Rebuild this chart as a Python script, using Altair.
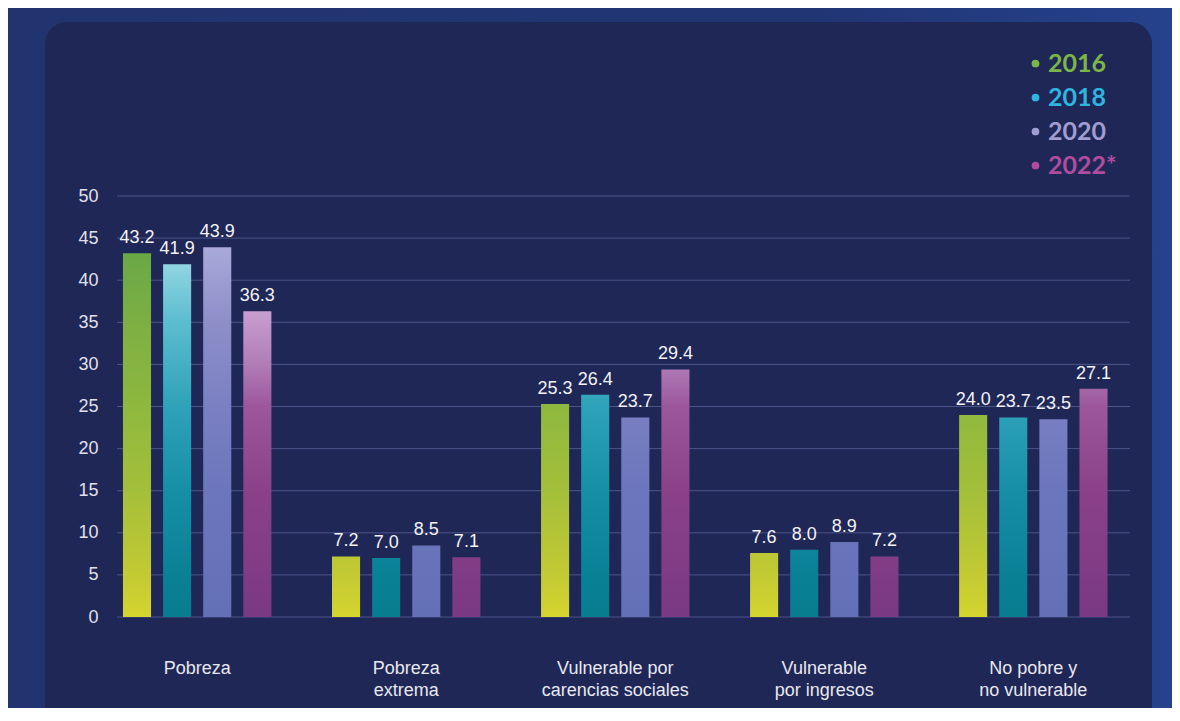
import altair as alt
import pandas as pd

# ---- data ----
categories = [
    "Pobreza",
    "Pobreza\nextrema",
    "Vulnerable por\ncarencias sociales",
    "Vulnerable\npor ingresos",
    "No pobre y\nno vulnerable",
]
years = ["2016", "2018", "2020", "2022"]
v2016 = [43.2, 7.2, 25.3, 7.6, 24.0]
v2018 = [41.9, 7.0, 26.4, 8.0, 23.7]
v2020 = [43.9, 8.5, 23.7, 8.9, 23.5]
v2022 = [36.3, 7.1, 29.4, 7.2, 27.1]
year_labels = ["2016", "2018", "2020", "2022*"]
y_ticks = [0, 5, 10, 15, 20, 25, 30, 35, 40, 45, 50]

# ---- styles ----
legend_colors = ["#7cb646", "#2eb5e0", "#9f9dd2", "#b04c9f"]
# colour stops (fraction of the gradient's full height -> colour), bottom to top
grad_stops = {
    "2016": [(0, "#d5d52f"), (0.11, "#c3ca33"), (0.34, "#a4bf3a"), (0.57, "#8eb83e"), (0.8, "#7caf43"), (1, "#68a746")],
    "2018": [(0, "#087d90"), (0.11, "#0a8095"), (0.34, "#168fa5"), (0.57, "#2ea2b8"), (0.8, "#5dbdd0"), (0.95, "#8fd4e0"), (1, "#99d9e6")],
    "2020": [(0, "#6470b6"), (0.34, "#6c76bc"), (0.57, "#7a80c2"), (0.8, "#8e8fc9"), (1, "#aaa9da")],
    "2022": [(0, "#7a3983"), (0.34, "#8a4189"), (0.57, "#9c579c"), (0.68, "#b07cb6"), (0.83, "#c8a0d0"), (1, "#d8bce0")],
}
GRAD_TOP = 44.0
FONT = "Liberation Sans, Arial, sans-serif"
LEGEND_FONT = "Lato, Noto Sans, sans-serif"

series = {"2016": v2016, "2018": v2018, "2020": v2020, "2022": v2022}
rows = []
for y in years:
    for i, c in enumerate(categories):
        rows.append({"cat": c, "year": y, "value": series[y][i], "key": f"{i}_{y}"})
df = pd.DataFrame(rows)

W, H = 1013, 421
PAD = {"left": 109, "top": 188, "right": 42, "bottom": 91}

x_enc = alt.X(
    "cat:N",
    sort=categories,
    scale=alt.Scale(domain=categories, paddingInner=0.29, paddingOuter=0.068, align=0.21),
    axis=alt.Axis(
        title=None, domain=False, ticks=False, grid=False, labelAngle=0, zindex=1,
        labelExpr="split(datum.label, '\\n')",
        labelFont=FONT, labelFontSize=18, labelColor="#e8e8f0",
        labelPadding=42, labelBaseline="top", labelLineHeight=22,
    ),
)
xo_enc = alt.XOffset("year:N", sort=years, scale=alt.Scale(domain=years, paddingInner=0.3, paddingOuter=0))
y_axis = alt.Axis(
    title=None, values=y_ticks, domain=False, ticks=False, grid=False, zindex=1,
    labelFont=FONT, labelFontSize=18, labelColor="#e0e0ea", labelPadding=19,
)
y_scale = alt.Scale(domain=[0, 50], nice=False)
y_enc = alt.Y("value:Q", scale=y_scale, axis=y_axis)

one = pd.DataFrame({"a": [0]})
background = alt.Chart(one).mark_rect(
    fill=alt.LinearGradient(
        gradient="linear", x1=0, x2=1, y1=0, y2=0,
        stops=[alt.GradientStop(color="#21346f", offset=0), alt.GradientStop(color="#213575", offset=0.7),
               alt.GradientStop(color="#25428c", offset=1)],
    )
).encode(x=alt.value(-PAD["left"]), x2=alt.value(W + PAD["right"]), y=alt.value(-PAD["top"]), y2=alt.value(H + PAD["bottom"]))

panel = alt.Chart(one).mark_rect(fill="#1f2756", cornerRadius=22).encode(
    x=alt.value(-72), x2=alt.value(1035), y=alt.value(-174), y2=alt.value(H + PAD["bottom"] + 40)
)

grid = alt.Chart(pd.DataFrame({"tick": y_ticks})).mark_rule(color="#4c5589", strokeWidth=1).encode(
    y=alt.Y("tick:Q", scale=y_scale, axis=y_axis)
)

layers = [background, panel, grid]
for y in years:
    for i, c in enumerate(categories):
        v = series[y][i]
        stops = [alt.GradientStop(color=col, offset=1 - f) for f, col in reversed(grad_stops[y])]
        grad = alt.LinearGradient(gradient="linear", x1=0, x2=0, y1=1 - GRAD_TOP / v, y2=1, stops=stops)
        layers.append(
            alt.Chart(df)
            .transform_filter(alt.datum.key == f"{i}_{y}")
            .mark_bar(fill=grad)
            .encode(x=x_enc, xOffset=xo_enc, y=y_enc)
        )

labels = alt.Chart(df).mark_text(
    baseline="bottom", dy=-6, font=FONT, fontSize=18, color="#f2f2f7"
).encode(x=x_enc, xOffset=xo_enc, y=y_enc, text=alt.Text("value:Q", format=".1f"))

color_expr = " : ".join(
    [f"datum.value == '{y}' ? '{col}'" for y, col in zip(years[:-1], legend_colors[:-1])] + [f"'{legend_colors[-1]}'"]
)
label_expr = " : ".join(
    [f"datum.label == '{y}' ? '{lab}'" for y, lab in zip(years[:-1], year_labels[:-1])] + [f"'{year_labels[-1]}'"]
)
legend_layer = alt.Chart(df).mark_circle(size=0, opacity=0).encode(
    x=x_enc, xOffset=xo_enc, y=y_enc,
    color=alt.Color(
        "year:N",
        sort=years,
        scale=alt.Scale(domain=years, range=legend_colors),
        legend=alt.Legend(
            title=None, orient="none", legendX=906, legendY=-145, padding=0,
            symbolType="circle", symbolSize=60, symbolOpacity=1, symbolStrokeWidth=0,
            labelFont=LEGEND_FONT, labelFontSize=25, labelFontWeight="bold",
            labelColor={"expr": color_expr}, labelExpr=label_expr,
            labelOffset=0, rowPadding=8,
        ),
    ),
)

layers += [labels, legend_layer]

chart = (
    alt.layer(*layers)
    .properties(width=W, height=H, padding=PAD, autosize="none", background="#21346f")
    .configure_view(stroke=None)
)

chart.save("out.html", embed_options={"renderer": "svg", "actions": False})
